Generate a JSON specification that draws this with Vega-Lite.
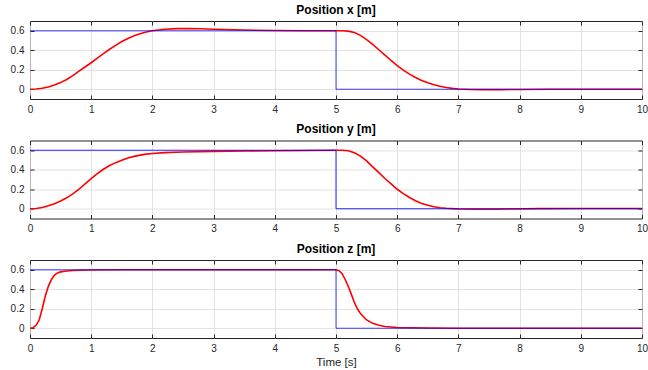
{
  "$schema": "https://vega.github.io/schema/vega-lite/v6.json",
  "background": "white",
  "padding": {"left": 9, "top": 3, "right": 0, "bottom": 1},
  "spacing": 7.5,
  "config": {
    "font": "Liberation Sans",
    "view": {"stroke": "#262626", "strokeWidth": 1},
    "title": {"fontSize": 12, "fontWeight": "bold", "color": "#000000", "offset": 4},
    "axis": {
      "labelFont": "Liberation Sans", "labelFontSize": 10, "labelColor": "#262626", "labelFlush": false,
      "titleFont": "Liberation Sans", "titleFontSize": 11.5, "titleFontWeight": "normal", "titleColor": "#262626",
      "domain": false, "tickColor": "#262626", "tickSize": -4,
      "gridColor": "#dcdcdc", "gridWidth": 0.8
    },
    "axisX": {"labelPadding": 9},
    "axisY": {"labelPadding": 10}
  },
  "datasets": {
    "ref": [
      {"p": "x", "k": 0, "t": 0, "v": 0.6}, {"p": "x", "k": 1, "t": 5, "v": 0.6}, {"p": "x", "k": 2, "t": 5, "v": 0}, {"p": "x", "k": 3, "t": 10, "v": 0},
      {"p": "y", "k": 0, "t": 0, "v": 0.6}, {"p": "y", "k": 1, "t": 5, "v": 0.6}, {"p": "y", "k": 2, "t": 5, "v": 0}, {"p": "y", "k": 3, "t": 10, "v": 0},
      {"p": "z", "k": 0, "t": 0, "v": 0.6}, {"p": "z", "k": 1, "t": 5, "v": 0.6}, {"p": "z", "k": 2, "t": 5, "v": 0}, {"p": "z", "k": 3, "t": 10, "v": 0}
    ],
    "resp": [
      {"p": "x", "t": 0, "v": 0}, {"p": "x", "t": 0.1, "v": 0.002}, {"p": "x", "t": 0.2, "v": 0.01}, {"p": "x", "t": 0.3, "v": 0.024},
      {"p": "x", "t": 0.4, "v": 0.044}, {"p": "x", "t": 0.5, "v": 0.068}, {"p": "x", "t": 0.6, "v": 0.1}, {"p": "x", "t": 0.7, "v": 0.14},
      {"p": "x", "t": 0.8, "v": 0.185}, {"p": "x", "t": 0.9, "v": 0.228}, {"p": "x", "t": 1.0, "v": 0.272}, {"p": "x", "t": 1.1, "v": 0.32},
      {"p": "x", "t": 1.2, "v": 0.365}, {"p": "x", "t": 1.3, "v": 0.41}, {"p": "x", "t": 1.4, "v": 0.45}, {"p": "x", "t": 1.5, "v": 0.49},
      {"p": "x", "t": 1.6, "v": 0.52}, {"p": "x", "t": 1.7, "v": 0.548}, {"p": "x", "t": 1.8, "v": 0.57}, {"p": "x", "t": 1.9, "v": 0.588},
      {"p": "x", "t": 2.0, "v": 0.6}, {"p": "x", "t": 2.2, "v": 0.615}, {"p": "x", "t": 2.4, "v": 0.622}, {"p": "x", "t": 2.6, "v": 0.623},
      {"p": "x", "t": 2.8, "v": 0.62}, {"p": "x", "t": 3.0, "v": 0.616}, {"p": "x", "t": 3.5, "v": 0.607}, {"p": "x", "t": 4.0, "v": 0.602},
      {"p": "x", "t": 4.5, "v": 0.6}, {"p": "x", "t": 5.0, "v": 0.6}, {"p": "x", "t": 5.1, "v": 0.6}, {"p": "x", "t": 5.2, "v": 0.596},
      {"p": "x", "t": 5.3, "v": 0.582}, {"p": "x", "t": 5.4, "v": 0.553}, {"p": "x", "t": 5.5, "v": 0.51}, {"p": "x", "t": 5.6, "v": 0.46},
      {"p": "x", "t": 5.7, "v": 0.405}, {"p": "x", "t": 5.8, "v": 0.35}, {"p": "x", "t": 5.9, "v": 0.295}, {"p": "x", "t": 6.0, "v": 0.243},
      {"p": "x", "t": 6.1, "v": 0.196}, {"p": "x", "t": 6.2, "v": 0.155}, {"p": "x", "t": 6.3, "v": 0.12}, {"p": "x", "t": 6.4, "v": 0.09},
      {"p": "x", "t": 6.5, "v": 0.066}, {"p": "x", "t": 6.6, "v": 0.046}, {"p": "x", "t": 6.7, "v": 0.03}, {"p": "x", "t": 6.8, "v": 0.018},
      {"p": "x", "t": 6.9, "v": 0.009}, {"p": "x", "t": 7.0, "v": 0.003}, {"p": "x", "t": 7.2, "v": -0.002}, {"p": "x", "t": 7.4, "v": -0.004},
      {"p": "x", "t": 7.7, "v": -0.004}, {"p": "x", "t": 8.0, "v": -0.002}, {"p": "x", "t": 8.5, "v": 0}, {"p": "x", "t": 10, "v": 0},

      {"p": "y", "t": 0, "v": 0}, {"p": "y", "t": 0.1, "v": 0.002}, {"p": "y", "t": 0.2, "v": 0.012}, {"p": "y", "t": 0.3, "v": 0.03},
      {"p": "y", "t": 0.4, "v": 0.052}, {"p": "y", "t": 0.5, "v": 0.08}, {"p": "y", "t": 0.6, "v": 0.112}, {"p": "y", "t": 0.7, "v": 0.152},
      {"p": "y", "t": 0.8, "v": 0.2}, {"p": "y", "t": 0.9, "v": 0.255}, {"p": "y", "t": 1.0, "v": 0.31}, {"p": "y", "t": 1.1, "v": 0.36},
      {"p": "y", "t": 1.2, "v": 0.405}, {"p": "y", "t": 1.3, "v": 0.443}, {"p": "y", "t": 1.4, "v": 0.473}, {"p": "y", "t": 1.5, "v": 0.498},
      {"p": "y", "t": 1.6, "v": 0.52}, {"p": "y", "t": 1.7, "v": 0.537}, {"p": "y", "t": 1.8, "v": 0.55}, {"p": "y", "t": 1.9, "v": 0.56},
      {"p": "y", "t": 2.0, "v": 0.567}, {"p": "y", "t": 2.2, "v": 0.576}, {"p": "y", "t": 2.5, "v": 0.582}, {"p": "y", "t": 3.0, "v": 0.588},
      {"p": "y", "t": 3.5, "v": 0.592}, {"p": "y", "t": 4.0, "v": 0.595}, {"p": "y", "t": 4.5, "v": 0.598}, {"p": "y", "t": 5.0, "v": 0.6},
      {"p": "y", "t": 5.1, "v": 0.6}, {"p": "y", "t": 5.2, "v": 0.595}, {"p": "y", "t": 5.3, "v": 0.575}, {"p": "y", "t": 5.4, "v": 0.54},
      {"p": "y", "t": 5.5, "v": 0.49}, {"p": "y", "t": 5.6, "v": 0.43}, {"p": "y", "t": 5.7, "v": 0.37}, {"p": "y", "t": 5.8, "v": 0.31},
      {"p": "y", "t": 5.9, "v": 0.255}, {"p": "y", "t": 6.0, "v": 0.2}, {"p": "y", "t": 6.1, "v": 0.155}, {"p": "y", "t": 6.2, "v": 0.115},
      {"p": "y", "t": 6.3, "v": 0.082}, {"p": "y", "t": 6.4, "v": 0.055}, {"p": "y", "t": 6.5, "v": 0.035}, {"p": "y", "t": 6.6, "v": 0.021},
      {"p": "y", "t": 6.7, "v": 0.011}, {"p": "y", "t": 6.8, "v": 0.005}, {"p": "y", "t": 6.9, "v": 0.001}, {"p": "y", "t": 7.0, "v": -0.002},
      {"p": "y", "t": 7.3, "v": -0.005}, {"p": "y", "t": 7.6, "v": -0.005}, {"p": "y", "t": 7.9, "v": -0.002}, {"p": "y", "t": 8.3, "v": 0.001},
      {"p": "y", "t": 9.0, "v": 0.003}, {"p": "y", "t": 10, "v": 0.003},

      {"p": "z", "t": 0, "v": 0}, {"p": "z", "t": 0.05, "v": 0.006}, {"p": "z", "t": 0.1, "v": 0.03}, {"p": "z", "t": 0.15, "v": 0.085},
      {"p": "z", "t": 0.2, "v": 0.2}, {"p": "z", "t": 0.25, "v": 0.33}, {"p": "z", "t": 0.3, "v": 0.43}, {"p": "z", "t": 0.35, "v": 0.5},
      {"p": "z", "t": 0.4, "v": 0.545}, {"p": "z", "t": 0.45, "v": 0.567}, {"p": "z", "t": 0.5, "v": 0.578}, {"p": "z", "t": 0.6, "v": 0.587},
      {"p": "z", "t": 0.7, "v": 0.592}, {"p": "z", "t": 0.8, "v": 0.595}, {"p": "z", "t": 1.0, "v": 0.598}, {"p": "z", "t": 1.5, "v": 0.6},
      {"p": "z", "t": 5.0, "v": 0.6}, {"p": "z", "t": 5.05, "v": 0.59}, {"p": "z", "t": 5.1, "v": 0.56}, {"p": "z", "t": 5.15, "v": 0.5},
      {"p": "z", "t": 5.2, "v": 0.43}, {"p": "z", "t": 5.25, "v": 0.35}, {"p": "z", "t": 5.3, "v": 0.265}, {"p": "z", "t": 5.35, "v": 0.2},
      {"p": "z", "t": 5.4, "v": 0.15}, {"p": "z", "t": 5.5, "v": 0.085}, {"p": "z", "t": 5.6, "v": 0.05}, {"p": "z", "t": 5.7, "v": 0.03},
      {"p": "z", "t": 5.8, "v": 0.018}, {"p": "z", "t": 6.0, "v": 0.007}, {"p": "z", "t": 6.5, "v": 0.002}, {"p": "z", "t": 7.0, "v": 0},
      {"p": "z", "t": 10, "v": 0}
    ]
  },
  "vconcat": [
    {
      "title": "Position x [m]",
      "width": 612, "height": 78,
      "resolve": {"axis": {"x": "independent", "y": "independent"}},
      "layer": [
        {
          "data": {"name": "resp"},
          "transform": [{"filter": "datum.p == 'x'"}],
          "mark": {"type": "line", "color": "#ff0000", "strokeWidth": 1.6, "clip": true},
          "encoding": {
            "x": {"field": "t", "type": "quantitative", "scale": {"domain": [0, 10], "nice": false}, "axis": {"values": [0,1,2,3,4,5,6,7,8,9,10], "title": null, "grid": true}},
            "y": {"field": "v", "type": "quantitative", "scale": {"domain": [-0.1, 0.7], "nice": false, "zero": false}, "axis": {"values": [0, 0.2, 0.4, 0.6], "format": "~g", "title": null, "grid": true}}
          }
        },
        {
          "data": {"name": "ref"},
          "transform": [{"filter": "datum.p == 'x'"}],
          "mark": {"type": "line", "color": "#0000ff", "strokeWidth": 1, "opacity": 0.75, "clip": true},
          "encoding": {
            "x": {"field": "t", "type": "quantitative", "axis": {"orient": "top", "values": [0,1,2,3,4,5,6,7,8,9,10], "labels": false, "grid": false, "title": null, "labelPadding": 0, "minExtent": 0, "maxExtent": 0}},
            "y": {"field": "v", "type": "quantitative", "axis": {"orient": "right", "values": [0, 0.2, 0.4, 0.6], "labels": false, "grid": false, "title": null, "labelPadding": 0, "minExtent": 0, "maxExtent": 0}},
            "order": {"field": "k"}
          }
        }
      ]
    },
    {
      "title": "Position y [m]",
      "width": 612, "height": 78,
      "resolve": {"axis": {"x": "independent", "y": "independent"}},
      "layer": [
        {
          "data": {"name": "resp"},
          "transform": [{"filter": "datum.p == 'y'"}],
          "mark": {"type": "line", "color": "#ff0000", "strokeWidth": 1.6, "clip": true},
          "encoding": {
            "x": {"field": "t", "type": "quantitative", "scale": {"domain": [0, 10], "nice": false}, "axis": {"values": [0,1,2,3,4,5,6,7,8,9,10], "title": null, "grid": true}},
            "y": {"field": "v", "type": "quantitative", "scale": {"domain": [-0.1, 0.7], "nice": false, "zero": false}, "axis": {"values": [0, 0.2, 0.4, 0.6], "format": "~g", "title": null, "grid": true}}
          }
        },
        {
          "data": {"name": "ref"},
          "transform": [{"filter": "datum.p == 'y'"}],
          "mark": {"type": "line", "color": "#0000ff", "strokeWidth": 1, "opacity": 0.85, "clip": true},
          "encoding": {
            "x": {"field": "t", "type": "quantitative", "axis": {"orient": "top", "values": [0,1,2,3,4,5,6,7,8,9,10], "labels": false, "grid": false, "title": null, "labelPadding": 0, "minExtent": 0, "maxExtent": 0}},
            "y": {"field": "v", "type": "quantitative", "axis": {"orient": "right", "values": [0, 0.2, 0.4, 0.6], "labels": false, "grid": false, "title": null, "labelPadding": 0, "minExtent": 0, "maxExtent": 0}},
            "order": {"field": "k"}
          }
        }
      ]
    },
    {
      "title": "Position z [m]",
      "width": 612, "height": 78,
      "resolve": {"axis": {"x": "independent", "y": "independent"}},
      "layer": [
        {
          "data": {"name": "resp"},
          "transform": [{"filter": "datum.p == 'z'"}],
          "mark": {"type": "line", "color": "#ff0000", "strokeWidth": 1.6, "clip": true},
          "encoding": {
            "x": {"field": "t", "type": "quantitative", "scale": {"domain": [0, 10], "nice": false}, "axis": {"values": [0,1,2,3,4,5,6,7,8,9,10], "title": "Time [s]", "titlePadding": 3, "grid": true}},
            "y": {"field": "v", "type": "quantitative", "scale": {"domain": [-0.1, 0.7], "nice": false, "zero": false}, "axis": {"values": [0, 0.2, 0.4, 0.6], "format": "~g", "title": null, "grid": true}}
          }
        },
        {
          "data": {"name": "ref"},
          "transform": [{"filter": "datum.p == 'z'"}],
          "mark": {"type": "line", "color": "#0000ff", "strokeWidth": 1, "opacity": 0.75, "clip": true},
          "encoding": {
            "x": {"field": "t", "type": "quantitative", "axis": {"orient": "top", "values": [0,1,2,3,4,5,6,7,8,9,10], "labels": false, "grid": false, "title": null, "labelPadding": 0, "minExtent": 0, "maxExtent": 0}},
            "y": {"field": "v", "type": "quantitative", "axis": {"orient": "right", "values": [0, 0.2, 0.4, 0.6], "labels": false, "grid": false, "title": null, "labelPadding": 0, "minExtent": 0, "maxExtent": 0}},
            "order": {"field": "k"}
          }
        }
      ]
    }
  ]
}
